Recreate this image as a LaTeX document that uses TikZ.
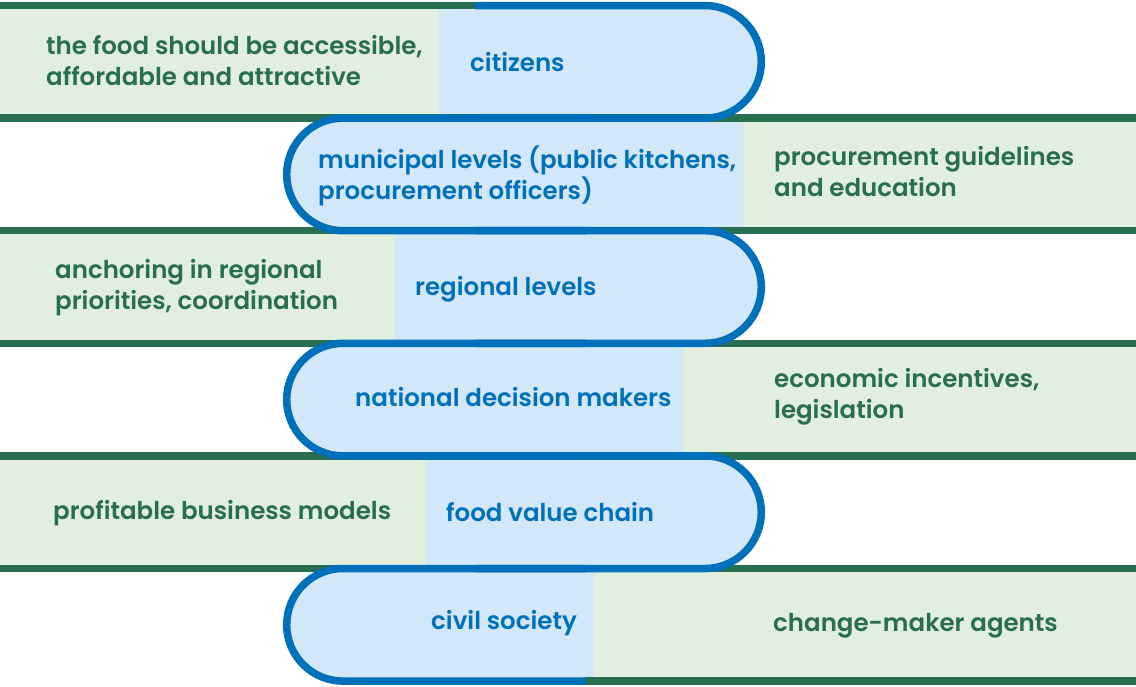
\documentclass[tikz,border=0pt]{standalone}
\usepackage{fontspec}
\setmainfont{Poppins}[BoldFont={Poppins SemiBold}]
\definecolor{darkgreen}{HTML}{286E50}
\definecolor{lightgreen}{HTML}{E2EFDE}
\definecolor{bandblue}{HTML}{0070BA}
\definecolor{lightblue}{HTML}{D2E7F7}
\tikzset{
  greenfill/.style={fill=lightgreen, draw=none},
  bluefill/.style={fill=lightblue, draw=none},
  greenrule/.style={draw=darkgreen, line width=7.5pt},
  blueedge/.style={draw=bandblue, line width=7.5pt, line cap=butt, line join=round},
  labelfont/.style={font=\bfseries\fontsize{24.5}{31}\selectfont, align=left, anchor=west, inner sep=0pt},
  greentext/.style={labelfont, text=darkgreen},
  bluetext/.style={labelfont, text=bandblue},
}
\begin{document}
\begin{tikzpicture}[x=1pt,y=-1pt]
\useasboundingbox (0,0) rectangle (1136,686);
% arc radius of the rounded ends
\def\ra{56.3pt}
% green side panels
\fill[greenfill] (0,5.5) rectangle (439,118.1);
\fill[greenfill] (743,118.1) rectangle (1136,230.7);
\fill[greenfill] (0,230.7) rectangle (395,343.3);
\fill[greenfill] (683,343.3) rectangle (1136,455.9);
\fill[greenfill] (0,455.9) rectangle (426,568.5);
\fill[greenfill] (594,568.5) rectangle (1136,681.1);
% blue pill fills
\fill[bluefill] (439,5.5) -- (705,5.5) arc[start angle=90,end angle=-90,radius=\ra] -- (439,118.1) -- cycle;
\fill[bluefill] (743,118.1) -- (343,118.1) arc[start angle=90,end angle=270,radius=\ra] -- (743,230.7) -- cycle;
\fill[bluefill] (395,230.7) -- (705,230.7) arc[start angle=90,end angle=-90,radius=\ra] -- (395,343.3) -- cycle;
\fill[bluefill] (683,343.3) -- (343,343.3) arc[start angle=90,end angle=270,radius=\ra] -- (683,455.9) -- cycle;
\fill[bluefill] (426,455.9) -- (705,455.9) arc[start angle=90,end angle=-90,radius=\ra] -- (426,568.5) -- cycle;
\fill[bluefill] (594,568.5) -- (343,568.5) arc[start angle=90,end angle=270,radius=\ra] -- (594,681.1) -- cycle;
% dark green rules
\draw[greenrule] (0,5.5) -- (476,5.5);
\foreach \yy in {118.1,230.7,343.3,455.9,568.5} \draw[greenrule] (0,\yy) -- (1136,\yy);
\draw[greenrule] (585,681.1) -- (1136,681.1);
% blue pill outlines
\draw[blueedge] (475,5.5) -- (705,5.5) arc[start angle=90,end angle=-90,radius=\ra] -- (475,118.1);
\draw[blueedge] (586,118.1) -- (343,118.1) arc[start angle=90,end angle=270,radius=\ra] -- (586,230.7);
\draw[blueedge] (475,230.7) -- (705,230.7) arc[start angle=90,end angle=-90,radius=\ra] -- (475,343.3);
\draw[blueedge] (586,343.3) -- (343,343.3) arc[start angle=90,end angle=270,radius=\ra] -- (586,455.9);
\draw[blueedge] (475,455.9) -- (705,455.9) arc[start angle=90,end angle=-90,radius=\ra] -- (475,568.5);
\draw[blueedge] (586,568.5) -- (343,568.5) arc[start angle=90,end angle=270,radius=\ra] -- (586,681.1);
% labels
\node[greentext] (g1) at (46,61) {the food should be accessible,\\affordable and attractive};
\node[bluetext] (b1) at (470,62) {citizens};
\node[bluetext] (b2) at (318,176) {municipal levels (public kitchens,\\procurement officers)};
\node[greentext] (g2) at (774,172) {procurement guidelines\\and education};
\node[greentext] (g3) at (55,288) {anchoring in regional\\priorities, coordination};
\node[bluetext] (b3) at (415,289) {regional levels};
\node[bluetext] (b4) at (355,397) {national decision makers};
\node[greentext] (g4) at (774,397) {economic incentives,\\legislation};
\node[greentext] (g5) at (53,513) {profitable business models};
\node[bluetext] (b5) at (446,512) {food value chain};
\node[bluetext] (b6) at (431,623) {civil society};
\node[greentext] (g6) at (773,626) {change-maker agents};
\end{tikzpicture}
\end{document}
